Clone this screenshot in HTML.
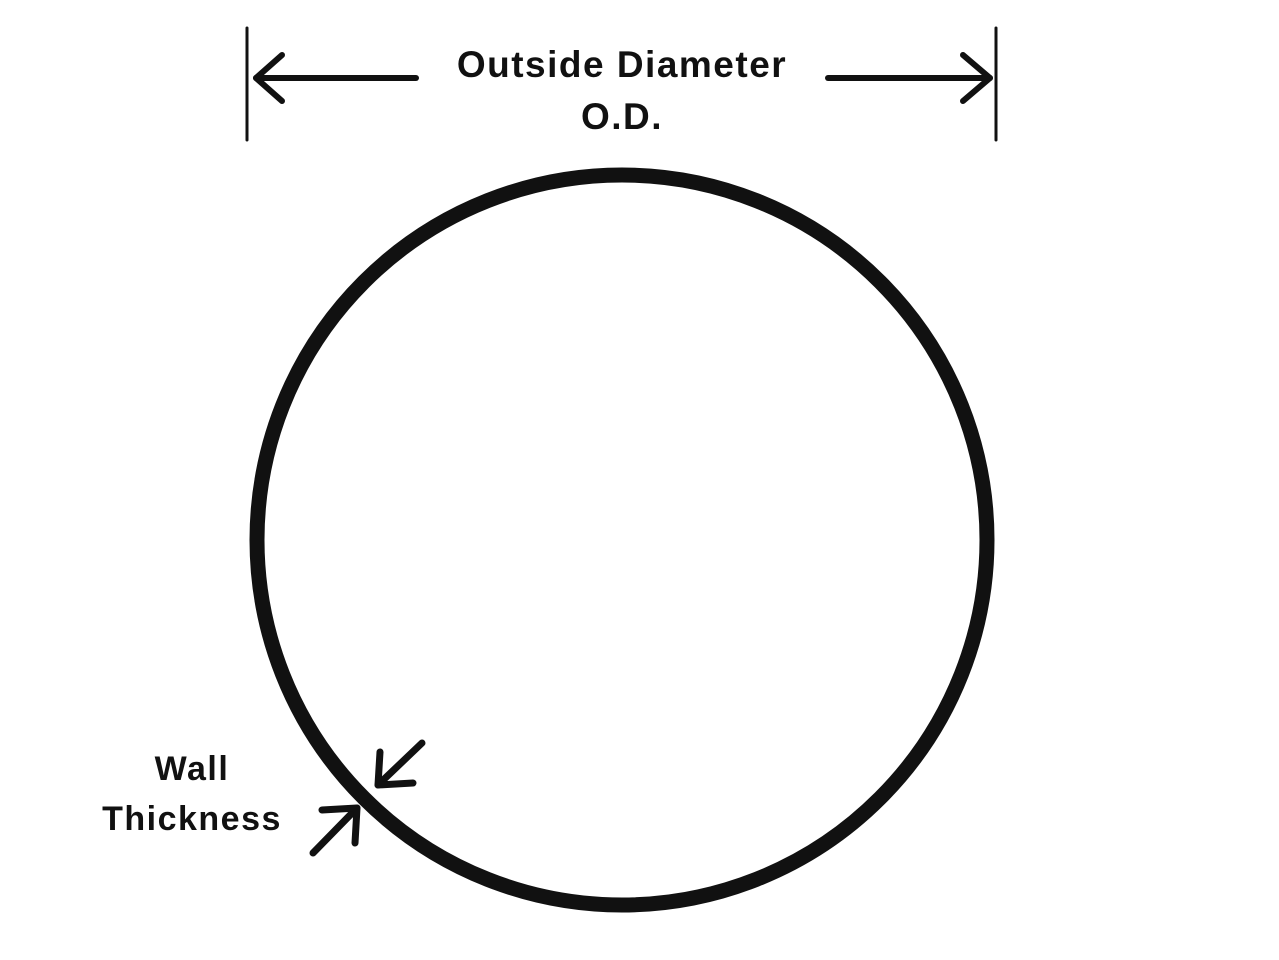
<!DOCTYPE html>
<html><head><style>
html,body{margin:0;padding:0;background:#fff;}
svg{display:block;}
text{font-family:"Liberation Sans",sans-serif;font-weight:bold;fill:#111;}
</style></head><body>
<svg width="1279" height="960" viewBox="0 0 1279 960" xmlns="http://www.w3.org/2000/svg">
<g stroke="#111" fill="none" stroke-linecap="round" stroke-linejoin="round">
<line x1="247" y1="28" x2="247" y2="140" stroke-width="3"/>
<line x1="996" y1="28" x2="996" y2="140" stroke-width="3"/>
<line x1="256" y1="78" x2="416" y2="78" stroke-width="6"/>
<polyline points="282,55 256,78 282,101" stroke-width="6"/>
<line x1="828" y1="78" x2="990" y2="78" stroke-width="6"/>
<polyline points="963,55 990,78 963,101" stroke-width="6"/>
<circle cx="622" cy="540" r="365" stroke-width="15"/>
<line x1="422" y1="743" x2="378" y2="785" stroke-width="7"/>
<polyline points="380,752 378,785 413,783" stroke-width="7"/>
<line x1="313" y1="853" x2="357" y2="808" stroke-width="7"/>
<polyline points="322,810 357,808 355,843" stroke-width="7"/>
</g>
<text x="622" y="77" font-size="37" letter-spacing="1.5" text-anchor="middle">Outside Diameter</text>
<text x="622" y="129" font-size="37" letter-spacing="1.5" text-anchor="middle">O.D.</text>
<text x="192" y="780" font-size="34" letter-spacing="1.5" text-anchor="middle">Wall</text>
<text x="192" y="830" font-size="34" letter-spacing="1.5" text-anchor="middle">Thickness</text>
</svg>
</body></html>
